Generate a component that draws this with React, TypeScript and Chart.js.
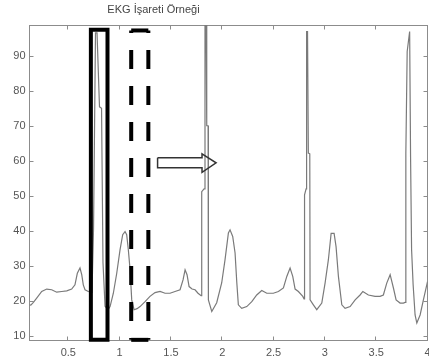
import React, { useEffect, useRef } from 'react';
import { Chart, registerables } from 'chart.js';

Chart.register(...registerables);

const chartTitle = 'EKG İşareti Örneği';
const xTicks = [0.5, 1, 1.5, 2, 2.5, 3, 3.5, 4];
const yTicks = [10, 20, 30, 40, 50, 60, 70, 80, 90];
const xRange = [0.122, 4.0];
const yRange = [8.57, 98.76];

// ECG trace (time in s, amplitude)
const ekgTime = [
  0.122, 0.135, 0.16, 0.192, 0.241, 0.29, 0.338, 0.387, 0.436, 0.485, 0.533, 0.565, 0.588, 0.614, 0.631, 0.646, 0.663, 0.695,
  0.731, 0.746, 0.765, 0.78, 0.804, 0.824, 0.838, 0.858, 0.887, 0.907, 0.939, 0.972, 1.004, 1.03, 1.053, 1.069, 1.085, 1.102,
  1.118, 1.141, 1.17, 1.199, 1.248, 1.296, 1.345, 1.394, 1.443, 1.491, 1.54, 1.589, 1.618, 1.638, 1.657, 1.677, 1.706, 1.735,
  1.764, 1.794, 1.8, 1.823, 1.832, 1.842, 1.849, 1.862, 1.865, 1.898, 1.946, 1.995, 2.027, 2.06, 2.076, 2.102, 2.125, 2.142,
  2.157, 2.19, 2.239, 2.288, 2.336, 2.385, 2.434, 2.498, 2.547, 2.596, 2.629, 2.661, 2.687, 2.71, 2.742, 2.785, 2.797, 2.802,
  2.817, 2.822, 2.831, 2.839, 2.853, 2.856, 2.888, 2.921, 2.97, 3.002, 3.034, 3.061, 3.09, 3.109, 3.132, 3.165, 3.197, 3.246,
  3.295, 3.343, 3.37, 3.424, 3.489, 3.538, 3.57, 3.603, 3.636, 3.668, 3.694, 3.733, 3.765, 3.782, 3.789, 3.802, 3.826, 3.835,
  3.845, 3.86, 3.879, 3.896, 3.928, 3.96, 3.993, 4.0,
];
const ekgValue = [
  18.9, 18.8, 19.6, 20.8, 22.7, 23.4, 23.2, 22.5, 22.7, 22.9, 23.4, 24.6, 27.9, 29.4, 27.5, 24.6, 23.2, 22.7,
  22.5, 40.8, 96.5, 96.5, 75.4, 75.0, 31.0, 18.5, 17.5, 18.4, 22.2, 27.9, 34.6, 38.9, 39.8, 38.9, 34.6, 28.9,
  20.3, 17.5, 17.8, 18.4, 19.8, 21.3, 22.4, 22.7, 22.2, 22.2, 22.7, 23.2, 26.0, 28.9, 27.5, 24.1, 23.4, 23.2,
  22.2, 21.5, 51.2, 52.0, 98.76, 98.76, 70.0, 70.0, 20.3, 17.0, 19.5, 25.2, 31.7, 39.4, 40.3, 38.4, 33.7, 25.2,
  18.9, 17.9, 18.4, 19.8, 21.7, 23.0, 22.2, 22.2, 22.7, 23.7, 27.0, 29.4, 27.0, 23.4, 22.7, 21.3, 20.6, 50.3,
  52.0, 96.9, 96.9, 62.2, 62.0, 20.3, 18.9, 17.5, 19.4, 25.1, 31.7, 39.3, 39.3, 35.5, 27.0, 18.9, 17.9, 18.4,
  20.3, 21.7, 22.7, 21.7, 21.3, 21.3, 21.7, 25.1, 27.5, 23.7, 20.3, 19.4, 19.4, 19.6, 62.0, 91.2, 96.9, 61.2,
  34.6, 24.6, 16.0, 13.7, 16.0, 20.3, 24.6, 25.5,
];

// Selection boxes and arrow (data coordinates)
const solidBoxTime = [0.72, 0.882];
const solidBoxValue = [8.9, 97.4];
const dashedBoxTime = [1.113, 1.28];
const dashedBoxValue = [8.9, 97.2];
const arrowTime = [1.37, 1.803, 1.803, 1.94, 1.803, 1.803, 1.37, 1.37];
const arrowValue = [60.84, 60.84, 61.98, 59.42, 56.71, 57.99, 57.99, 60.84];

const pts = (xs: number[], ys: number[]) => xs.map((x, i) => ({ x, y: ys[i] }));

const FONT = "'Liberation Sans', Arial, sans-serif";

const framePlugin = {
  id: 'matlabFrame',
  beforeDatasetsDraw(chart: any) {
    const { ctx, chartArea: a, scales } = chart;
    const L = Math.floor(a.left) + 0.5;
    const R = Math.floor(a.right) + 0.5;
    const T = Math.floor(a.top) + 0.5;
    const B = Math.floor(a.bottom) - 0.5;
    ctx.save();
    ctx.strokeStyle = '#8c8c8c';
    ctx.lineWidth = 1;
    ctx.strokeRect(L, T, R - L, B - T);
    ctx.beginPath();
    xTicks.forEach((v) => {
      const p = Math.round(scales.x.getPixelForValue(v)) - 0.5;
      ctx.moveTo(p, B); ctx.lineTo(p, B - 4);
      ctx.moveTo(p, T); ctx.lineTo(p, T + 4);
    });
    yTicks.forEach((v) => {
      const p = Math.round(scales.y.getPixelForValue(v)) + 0.5;
      ctx.moveTo(L, p); ctx.lineTo(L + 4, p);
      ctx.moveTo(R, p); ctx.lineTo(R - 4, p);
    });
    ctx.stroke();
    ctx.restore();
  },
  afterDraw(chart: any) {
    const { ctx } = chart;
    ctx.save();
    ctx.font = `11px ${FONT}`;
    ctx.fillStyle = '#444';
    ctx.textAlign = 'center';
    ctx.textBaseline = 'middle';
    ctx.fillText(chartTitle, 153.5, 9.5);
    ctx.restore();
  },
};

export default function App() {
  const ref = useRef<HTMLCanvasElement>(null);
  useEffect(() => {
    if (!ref.current) return;
    const line = { showLine: true, pointRadius: 0, fill: false, tension: 0 };
    const chart = new Chart(ref.current, {
      type: 'scatter',
      data: {
        datasets: [
          { ...line, data: pts(arrowTime, arrowValue), borderColor: '#333', borderWidth: 1.5, borderJoinStyle: 'miter', order: 0, clip: false },
          { ...line, data: pts([solidBoxTime[0], solidBoxTime[1], solidBoxTime[1], solidBoxTime[0], solidBoxTime[0], solidBoxTime[1]], [solidBoxValue[1], solidBoxValue[1], solidBoxValue[0], solidBoxValue[0], solidBoxValue[1], solidBoxValue[1]]), borderColor: '#000', borderWidth: 4, borderJoinStyle: 'miter', order: 1, clip: false },
          { ...line, data: pts([dashedBoxTime[0], dashedBoxTime[0]], [dashedBoxValue[1], dashedBoxValue[0]]), borderColor: '#000', borderWidth: 4, borderDash: [19, 17], borderDashOffset: 16.5, order: 1, clip: false },
          { ...line, data: pts([dashedBoxTime[1], dashedBoxTime[1]], [dashedBoxValue[1], dashedBoxValue[0]]), borderColor: '#000', borderWidth: 4, borderDash: [19, 17], borderDashOffset: 16.5, order: 1, clip: false },
          { ...line, data: pts(dashedBoxTime, [dashedBoxValue[1], dashedBoxValue[1]]), borderColor: '#000', borderWidth: 4, order: 1, clip: false },
          { ...line, data: pts(dashedBoxTime, [dashedBoxValue[0], dashedBoxValue[0]]), borderColor: '#000', borderWidth: 4, order: 1, clip: false },
          { ...line, data: pts(ekgTime, ekgValue), borderColor: '#7a7a7a', borderWidth: 1.2, order: 5 },
        ],
      },
      options: {
        responsive: false,
        devicePixelRatio: 1,
        animation: false,
        events: [],
        layout: { padding: { left: 0, top: 25, right: 17.5, bottom: 0 } },
        plugins: { legend: { display: false }, tooltip: { enabled: false }, title: { display: false } },
        scales: {
          x: {
            type: 'linear',
            min: xRange[0],
            max: xRange[1],
            grid: { display: false, drawTicks: false },
            border: { display: false },
            afterBuildTicks: (axis: any) => { axis.ticks = xTicks.map((v) => ({ value: v })); },
            afterFit: (axis: any) => { axis.height = 22; },
            ticks: { color: '#555', font: { family: FONT, size: 11 }, padding: 5, autoSkip: false, maxRotation: 0, callback: (v: any) => String(v) },
          },
          y: {
            type: 'linear',
            min: yRange[0],
            max: yRange[1],
            grid: { display: false, drawTicks: false },
            border: { display: false },
            afterBuildTicks: (axis: any) => { axis.ticks = yTicks.map((v) => ({ value: v })); },
            afterFit: (axis: any) => { axis.width = 29.5; },
            ticks: { color: '#555', font: { family: FONT, size: 11 }, padding: 4, autoSkip: false, callback: (v: any) => String(v) },
          },
        },
      },
      plugins: [framePlugin],
    } as any);
    return () => chart.destroy();
  }, []);
  return (
    <div style={{ position: 'absolute', left: 0, top: 0, width: 429, height: 363, overflow: 'hidden', background: '#fff' }}>
      <canvas ref={ref} width={445} height={363} style={{ width: 445, height: 363, display: 'block' }} />
    </div>
  );
}
